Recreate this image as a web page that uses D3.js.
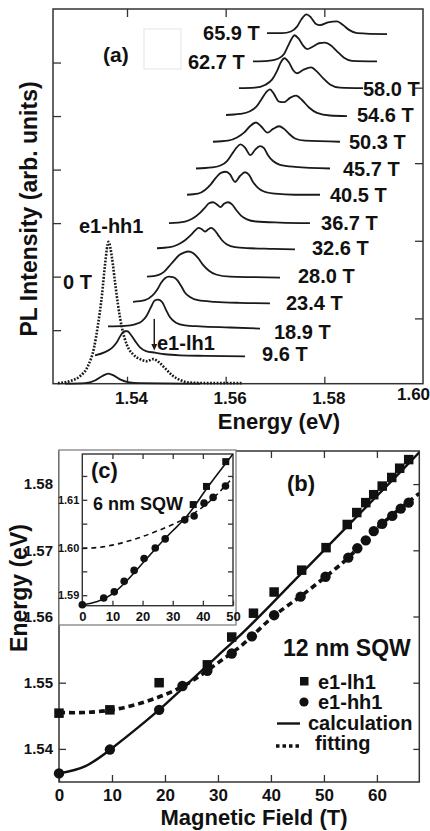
<!DOCTYPE html>
<html><head><meta charset="utf-8">
<script src="https://cdn.jsdelivr.net/npm/d3@7"></script>
<style>
body{margin:0;background:#fff}
svg{display:block}
text{font-family:"Liberation Sans",Arial,sans-serif;font-weight:bold;fill:#111}
</style>
</head><body>
<svg id="c" width="430" height="831"></svg>
<script>
// ---------------- Panel (a): PL spectra (energy eV, stacked intensity arb. units) ----------------
const spec0Tdotted = [[1.52601,0.01],[1.52845,0.05],[1.53047,0.14],[1.53209,0.33],[1.53331,0.67],[1.53412,1.10],[1.53493,1.66],[1.53554,2.22],[1.53625,2.65],[1.53696,2.35],[1.53757,1.90],[1.53818,1.47],[1.53899,1.04],[1.54000,0.72],[1.54122,0.55],[1.54263,0.46],[1.54405,0.42],[1.54527,0.46],[1.54649,0.40],[1.54770,0.29],[1.54912,0.16],[1.55074,0.07],[1.55277,0.02],[1.55784,0.01],[1.56331,0.01]];
const spec0T = [[1.52743,0.00],[1.53149,0.01],[1.53351,0.06],[1.53493,0.14],[1.53621,0.19],[1.53736,0.15],[1.53858,0.08],[1.54020,0.03],[1.54263,0.01],[1.55480,0.00]];
const spec9p6 = [[1.53351,0.53],[1.53554,0.59],[1.53696,0.67],[1.53797,0.78],[1.53878,0.91],[1.53949,0.98],[1.54010,0.98],[1.54081,0.91],[1.54162,0.80],[1.54263,0.68],[1.54385,0.61],[1.54568,0.58],[1.54770,0.55],[1.55074,0.53],[1.55581,0.52],[1.56392,0.51]];
const spec18p9 = [[1.53615,1.07],[1.53959,1.08],[1.54162,1.11],[1.54304,1.17],[1.54405,1.28],[1.54486,1.43],[1.54557,1.55],[1.54628,1.57],[1.54709,1.53],[1.54791,1.38],[1.54872,1.24],[1.54993,1.14],[1.55176,1.09],[1.55480,1.07],[1.56088,1.05],[1.56696,1.03]];
const spec23p4 = [[1.54122,1.53],[1.54365,1.56],[1.54507,1.64],[1.54608,1.75],[1.54689,1.88],[1.54770,1.97],[1.54851,2.00],[1.54932,1.99],[1.55014,1.94],[1.55095,1.83],[1.55176,1.70],[1.55277,1.62],[1.55439,1.56],[1.55784,1.53],[1.56290,1.51],[1.56898,1.50]];
const spec28p0 = [[1.54405,2.00],[1.54628,2.03],[1.54750,2.09],[1.54851,2.19],[1.54953,2.30],[1.55054,2.40],[1.55155,2.45],[1.55247,2.47],[1.55338,2.44],[1.55439,2.35],[1.55541,2.22],[1.55662,2.11],[1.55804,2.04],[1.56088,2.00],[1.56595,1.99],[1.57101,1.98]];
const spec32p6 = [[1.54608,2.53],[1.54872,2.55],[1.55034,2.60],[1.55176,2.68],[1.55297,2.78],[1.55389,2.87],[1.55449,2.91],[1.55510,2.89],[1.55581,2.84],[1.55642,2.88],[1.55703,2.91],[1.55774,2.87],[1.55845,2.78],[1.55926,2.68],[1.56027,2.60],[1.56189,2.55],[1.56493,2.53],[1.56898,2.52],[1.57405,2.51]];
const spec36p7 = [[1.54851,3.00],[1.55176,3.03],[1.55338,3.09],[1.55480,3.19],[1.55581,3.29],[1.55662,3.37],[1.55743,3.39],[1.55824,3.35],[1.55895,3.30],[1.55966,3.36],[1.56047,3.39],[1.56128,3.35],[1.56209,3.25],[1.56311,3.14],[1.56432,3.07],[1.56615,3.03],[1.57101,3.01],[1.57709,3.00]];
const spec40p5 = [[1.55216,3.53],[1.55439,3.55],[1.55581,3.62],[1.55703,3.73],[1.55804,3.85],[1.55905,3.94],[1.56007,3.96],[1.56088,3.91],[1.56189,3.77],[1.56290,3.88],[1.56392,3.95],[1.56473,3.90],[1.56554,3.77],[1.56655,3.66],[1.56777,3.59],[1.57000,3.55],[1.57405,3.53],[1.57912,3.53]];
const spec45p7 = [[1.55399,4.02],[1.55723,4.04],[1.55905,4.08],[1.56027,4.16],[1.56128,4.29],[1.56220,4.41],[1.56301,4.47],[1.56392,4.41],[1.56503,4.27],[1.56595,4.37],[1.56696,4.44],[1.56777,4.40],[1.56858,4.27],[1.56960,4.16],[1.57101,4.09],[1.57405,4.05],[1.58115,4.02]];
const spec50p3 = [[1.55743,4.52],[1.56047,4.54],[1.56230,4.60],[1.56372,4.69],[1.56493,4.81],[1.56615,4.88],[1.56716,4.81],[1.56848,4.69],[1.56960,4.76],[1.57081,4.81],[1.57183,4.76],[1.57284,4.67],[1.57405,4.58],[1.57608,4.54],[1.58317,4.52]];
const spec54p6 = [[1.56007,5.02],[1.56290,5.04],[1.56493,5.09],[1.56635,5.19],[1.56736,5.33],[1.56818,5.44],[1.56898,5.50],[1.56980,5.41],[1.57081,5.27],[1.57183,5.26],[1.57304,5.34],[1.57426,5.38],[1.57547,5.30],[1.57689,5.16],[1.57851,5.06],[1.58115,5.01],[1.58459,5.00]];
const spec58p0 = [[1.56270,5.52],[1.56595,5.53],[1.56797,5.58],[1.56939,5.68],[1.57040,5.84],[1.57122,6.01],[1.57192,6.08],[1.57284,6.00],[1.57365,5.86],[1.57446,5.80],[1.57568,5.86],[1.57730,5.91],[1.57851,5.83],[1.57973,5.71],[1.58115,5.59],[1.58317,5.53],[1.58784,5.52]];
const spec62p7 = [[1.56554,6.02],[1.56858,6.03],[1.57061,6.07],[1.57183,6.16],[1.57264,6.31],[1.57335,6.44],[1.57395,6.51],[1.57476,6.45],[1.57568,6.32],[1.57649,6.25],[1.57770,6.30],[1.57892,6.36],[1.58014,6.37],[1.58135,6.32],[1.58257,6.21],[1.58399,6.09],[1.58561,6.03],[1.59068,6.02]];
const spec65p9 = [[1.56838,6.55],[1.57142,6.55],[1.57324,6.58],[1.57446,6.67],[1.57537,6.81],[1.57639,6.90],[1.57730,6.84],[1.57831,6.72],[1.57912,6.70],[1.58074,6.75],[1.58257,6.77],[1.58379,6.70],[1.58501,6.61],[1.58663,6.55],[1.59271,6.53]];

const fieldLabels = ["0 T","9.6 T","18.9 T","23.4 T","28.0 T","32.6 T","36.7 T","40.5 T","45.7 T","50.3 T","54.6 T","58.0 T","62.7 T","65.9 T"];
const solidSpectra = [spec0T,spec9p6,spec18p9,spec23p4,spec28p0,spec32p6,spec36p7,spec40p5,spec45p7,spec50p3,spec54p6,spec58p0,spec62p7,spec65p9];
// label anchor (energy, intensity) for each field label
const fieldLabelPos = [[1.52703,1.91],[1.56737,0.55],[1.56980,0.97],[1.57223,1.51],[1.57466,2.01],[1.57750,2.54],[1.57933,3.01],[1.58115,3.53],[1.58378,4.01],[1.58500,4.52],[1.58662,5.02],[1.58784,5.51],[1.55236,6.01],[1.55541,6.55]];

const energyTicksA = [1.54,1.56,1.58,1.60];
const intensityTicksA = [1,2,3,4,5,6];
const rightTicksA = [1.22,2.67,4.12,5.53];

// ---------------- Panel (b): 12 nm SQW ----------------
const fieldLH = [0,9.6,18.9,28.0,32.6,36.7,40.6,45.8,50.4,54.4,56.2,57.9,59.4,61.0,62.8,64.3,66.0];
const energyLH = [1.5454,1.5459,1.5500,1.5527,1.5569,1.5605,1.5637,1.5670,1.5704,1.5739,1.5757,1.5772,1.5784,1.5797,1.5810,1.5824,1.5837];
const fieldHH = [0,9.6,18.9,23.3,28.0,32.6,36.4,40.6,45.6,50.3,54.6,56.3,57.9,59.4,61.0,62.9,64.5,66.0];
const energyHH = [1.5363,1.5399,1.5459,1.5495,1.5518,1.5544,1.5570,1.5602,1.5630,1.5660,1.5689,1.5703,1.5715,1.5729,1.5740,1.5752,1.5763,1.5772];
const curveField = [0,5,10,15,20,25,30,35,40,45,50,55,60,65,68];
const calcEnergy = [1.5363,1.5374,1.5401,1.5433,1.5467,1.5504,1.5541,1.5578,1.5618,1.5659,1.5700,1.5741,1.5782,1.5823,1.5848];
const fitEnergy = [1.5455,1.5455,1.5459,1.5468,1.5482,1.5502,1.5530,1.5560,1.5597,1.5627,1.5658,1.5692,1.5733,1.5767,1.5786];
const fieldTicksB = [0,10,20,30,40,50,60];
const energyTicksB = [1.54,1.55,1.56,1.57,1.58];

// ---------------- Inset (c): 6 nm SQW ----------------
const insetFieldHH = [0,7.1,10.6,13.9,17.2,20.5,24.2,27.5,34.0,37.1,40.4,43.4,47.5];
const insetEnergyHH = [1.5880,1.5894,1.5907,1.5929,1.5952,1.5977,1.5999,1.6018,1.6058,1.6066,1.6093,1.6105,1.6129];
const insetFieldLH = [36.8,41.2,47.6];
const insetEnergyLH = [1.6090,1.6128,1.6180];
const insetCurveField = [0,5,10,15,20,25,30,35,40,45,50];
const insetCalc = [1.5880,1.5887,1.5903,1.5932,1.5967,1.6002,1.6035,1.6068,1.6112,1.6155,1.6196];
const insetFit = [1.5998,1.6000,1.6005,1.6013,1.6023,1.6035,1.6048,1.6064,1.6085,1.6113,1.6147];
const fieldTicksC = [0,10,20,30,40,50];
const energyTicksC = [1.59,1.595,1.60,1.605,1.61,1.615];

// =====================================================================
const svg = d3.select("#c");
const FONT = '"Liberation Sans",Arial,sans-serif';
const INK = "#111";

function styleAxis(g, size){
  g.select(".domain").remove();
  g.selectAll("line").attr("stroke","#333").attr("stroke-width",1.3);
  g.attr("font-family",FONT).attr("font-size",size).attr("font-weight","bold");
  g.selectAll("text").attr("fill",INK);
}
function frame(x0,y0,x1,y1,sw){
  svg.append("rect").attr("x",x0).attr("y",y0).attr("width",x1-x0).attr("height",y1-y0)
    .attr("fill","none").attr("stroke","#333").attr("stroke-width",sw||1.5);
}

// ---------- Panel (a) ----------
const xA = d3.scaleLinear().domain([1.525,1.600]).range([53,423]);
const yA = d3.scaleLinear().domain([0,7]).range([383.7,9]);

// faint pasted box artifact
svg.append("rect").attr("x",144).attr("y",29).attr("width",37).attr("height",40)
  .attr("fill","none").attr("stroke","#e3e3e3").attr("stroke-width",1);

const gAb = svg.append("g").attr("transform",`translate(0,${yA(0)})`)
  .call(d3.axisBottom(xA).tickValues(energyTicksA).tickSize(-7).tickPadding(8).tickFormat(d3.format(".2f")));
styleAxis(gAb,17);
gAb.selectAll(".tick text").attr("dx",d=> d>1.595 ? -10 : 4).attr("dy",d=> d>1.595 ? "0.5em" : "0.71em");
gAb.selectAll(".tick line").filter(d=>d>1.595).remove();
const gAt = svg.append("g").attr("transform",`translate(0,${yA(7)})`)
  .call(d3.axisTop(xA).tickValues(energyTicksA.slice(0,3)).tickSize(-8).tickFormat(""));
styleAxis(gAt,10);
const gAl = svg.append("g").attr("transform",`translate(${xA(1.525)},0)`)
  .call(d3.axisLeft(yA).tickValues(intensityTicksA).tickSize(-8).tickFormat(""));
styleAxis(gAl,10);
const gAr = svg.append("g").attr("transform",`translate(${xA(1.600)},0)`)
  .call(d3.axisRight(yA).tickValues(rightTicksA).tickSize(-8).tickFormat(""));
styleAxis(gAr,10);
frame(xA(1.525),yA(7),xA(1.600),yA(0),1.5);

const lineA = d3.line().x(d=>xA(d[0])).y(d=>yA(d[1])).curve(d3.curveMonotoneX);
svg.append("path").attr("d",lineA(spec0Tdotted)).attr("fill","none").attr("stroke","#1a1a1a")
  .attr("stroke-width",2.6).attr("stroke-dasharray","1.8,1.5");
svg.selectAll("path.spec").data(solidSpectra).enter().append("path").attr("class","spec")
  .attr("d",lineA).attr("fill","none").attr("stroke","#1a1a1a").attr("stroke-width",1.8);

svg.selectAll("text.fl").data(fieldLabels).enter().append("text").attr("class","fl")
  .attr("x",(d,i)=>xA(fieldLabelPos[i][0])).attr("y",(d,i)=>yA(fieldLabelPos[i][1]))
  .attr("dy","0.36em").attr("font-size",20).text(d=>d);

svg.append("text").attr("x",xA(1.53027)).attr("y",yA(2.95)).attr("dy","0.36em").attr("font-size",20).text("e1-hh1");
svg.append("text").attr("x",xA(1.54608)).attr("y",yA(0.755)).attr("dy","0.36em").attr("font-size",20).text("e1-lh1");
// arrow to e1-lh1
const axE = 1.54553;
svg.append("line").attr("x1",xA(axE)).attr("x2",xA(axE)).attr("y1",yA(1.21)).attr("y2",yA(0.70))
  .attr("stroke","#1a1a1a").attr("stroke-width",1.5);
svg.append("path").attr("d",`M${xA(axE)-3},${yA(0.74)} L${xA(axE)+3},${yA(0.74)} L${xA(axE)},${yA(0.62)} Z`).attr("fill","#1a1a1a");

svg.append("text").attr("x",103).attr("y",62).attr("font-size",21).text("(a)");
svg.append("text").attr("x",279).attr("y",429).attr("text-anchor","middle").attr("font-size",22).text("Energy (eV)");
svg.append("text").attr("transform","translate(29,209) rotate(-90)").attr("text-anchor","middle")
  .attr("dy","0.36em").attr("font-size",23).text("PL Intensity (arb. units)");

// ---------- Panel (b) ----------
const xB = d3.scaleLinear().domain([0,68]).range([59,419.3]);
const yB = d3.scaleLinear().domain([1.535,1.585]).range([782,451]);

const gBb = svg.append("g").attr("transform",`translate(0,${yB(1.535)})`)
  .call(d3.axisBottom(xB).tickValues(fieldTicksB).tickSize(-7).tickPadding(7).tickFormat(d3.format("d")));
styleAxis(gBb,17);
const gBt = svg.append("g").attr("transform",`translate(0,${yB(1.585)})`)
  .call(d3.axisTop(xB).tickValues(fieldTicksB.slice(1)).tickSize(-7).tickFormat(""));
styleAxis(gBt,10);
const gBl = svg.append("g").attr("transform",`translate(${xB(0)},0)`)
  .call(d3.axisLeft(yB).tickValues(energyTicksB).tickSize(-7).tickPadding(6).tickFormat(d3.format(".2f")));
styleAxis(gBl,15);
const gBr = svg.append("g").attr("transform",`translate(${xB(68)},0)`)
  .call(d3.axisRight(yB).tickValues(energyTicksB).tickSize(-6).tickFormat(""));
styleAxis(gBr,10);
frame(xB(0),yB(1.585),xB(68),yB(1.535),1.5);

svg.append("clipPath").attr("id","clipB").append("rect")
  .attr("x",xB(0)).attr("y",yB(1.585)).attr("width",xB(68)-xB(0)).attr("height",yB(1.535)-yB(1.585));
const lineB = d3.line().x(d=>xB(d[0])).y(d=>yB(d[1])).curve(d3.curveNatural);
const gBplot = svg.append("g").attr("clip-path","url(#clipB)");
gBplot.append("path").attr("d",lineB(d3.zip(curveField,calcEnergy))).attr("fill","none")
  .attr("stroke","#111").attr("stroke-width",2.4);
gBplot.append("path").attr("d",lineB(d3.zip(curveField,fitEnergy))).attr("fill","none")
  .attr("stroke","#111").attr("stroke-width",3.6).attr("stroke-dasharray","6,4");
const sqB = 9.5;
svg.selectAll("rect.lhB").data(d3.zip(fieldLH,energyLH)).enter().append("rect").attr("class","lhB")
  .attr("x",d=>xB(d[0])-sqB/2).attr("y",d=>yB(d[1])-sqB/2).attr("width",sqB).attr("height",sqB).attr("fill","#111");
svg.selectAll("circle.hhB").data(d3.zip(fieldHH,energyHH)).enter().append("circle").attr("class","hhB")
  .attr("cx",d=>xB(d[0])).attr("cy",d=>yB(d[1])).attr("r",5.2).attr("fill","#111");

svg.append("text").attr("x",287).attr("y",491).attr("font-size",22).text("(b)");
// legend
svg.append("text").attr("x",283).attr("y",656).attr("font-size",23).text("12 nm SQW");
svg.append("rect").attr("x",300).attr("y",677).attr("width",8.5).attr("height",8.5).attr("fill","#111");
svg.append("text").attr("x",318).attr("y",688.5).attr("font-size",20).text("e1-lh1");
svg.append("circle").attr("cx",304).attr("cy",702).attr("r",4.6).attr("fill","#111");
svg.append("text").attr("x",318).attr("y",708.5).attr("font-size",20).text("e1-hh1");
svg.append("line").attr("x1",277).attr("x2",300).attr("y1",723.5).attr("y2",723.5).attr("stroke","#111").attr("stroke-width",2.4);
svg.append("text").attr("x",308).attr("y",730).attr("font-size",20).text("calculation");
svg.append("line").attr("x1",276).attr("x2",300).attr("y1",746).attr("y2",746).attr("stroke","#111")
  .attr("stroke-width",3.4).attr("stroke-dasharray","3.5,3");
svg.append("text").attr("x",315).attr("y",750).attr("font-size",20).text("fitting");

svg.append("text").attr("x",254).attr("y",825).attr("text-anchor","middle").attr("font-size",22).text("Magnetic Field (T)");
svg.append("text").attr("transform","translate(19,588) rotate(-90)").attr("text-anchor","middle")
  .attr("dy","0.36em").attr("font-size",23).text("Energy (eV)");

// ---------- Inset (c) ----------
svg.append("rect").attr("x",59).attr("y",450).attr("width",177).attr("height",175)
  .attr("fill","#fff").attr("stroke","#777").attr("stroke-width",1.2);
const xC = d3.scaleLinear().domain([0,50]).range([82.3,233]);
const yC = d3.scaleLinear().domain([1.5878,1.6196]).range([605.7,454]);
const isMajor = d => Math.abs(d*100-Math.round(d*100))<1e-6;

const gCb = svg.append("g").attr("transform",`translate(0,${yC(1.5878)})`)
  .call(d3.axisBottom(xC).tickValues(fieldTicksC).tickSize(-5).tickPadding(6).tickFormat(d3.format("d")));
styleAxis(gCb,13);
const gCt = svg.append("g").attr("transform",`translate(0,${yC(1.6196)})`)
  .call(d3.axisTop(xC).tickValues(fieldTicksC.slice(1,5)).tickSize(-5).tickFormat(""));
styleAxis(gCt,10);
const gCl = svg.append("g").attr("transform",`translate(${xC(0)},0)`)
  .call(d3.axisLeft(yC).tickValues(energyTicksC).tickSize(-5).tickPadding(3)
    .tickFormat(d=> isMajor(d) ? d3.format(".2f")(d) : ""));
styleAxis(gCl,11);
const gCr = svg.append("g").attr("transform",`translate(${xC(50)},0)`)
  .call(d3.axisRight(yC).tickValues(energyTicksC).tickSize(-5).tickFormat(""));
styleAxis(gCr,10);
frame(xC(0),yC(1.6196),xC(50),yC(1.5878),1.4);

svg.append("clipPath").attr("id","clipC").append("rect")
  .attr("x",xC(0)).attr("y",yC(1.6196)).attr("width",xC(50)-xC(0)).attr("height",yC(1.5878)-yC(1.6196));
const lineC = d3.line().x(d=>xC(d[0])).y(d=>yC(d[1])).curve(d3.curveNatural);
const gCplot = svg.append("g").attr("clip-path","url(#clipC)");
gCplot.append("path").attr("d",lineC(d3.zip(insetCurveField,insetCalc))).attr("fill","none")
  .attr("stroke","#111").attr("stroke-width",1.6);
gCplot.append("path").attr("d",lineC(d3.zip(insetCurveField,insetFit))).attr("fill","none")
  .attr("stroke","#111").attr("stroke-width",1.6).attr("stroke-dasharray","5,4");
const sqC = 7;
svg.selectAll("rect.lhC").data(d3.zip(insetFieldLH,insetEnergyLH)).enter().append("rect").attr("class","lhC")
  .attr("x",d=>xC(d[0])-sqC/2).attr("y",d=>yC(d[1])-sqC/2).attr("width",sqC).attr("height",sqC).attr("fill","#111");
svg.selectAll("circle.hhC").data(d3.zip(insetFieldHH,insetEnergyHH)).enter().append("circle").attr("class","hhC")
  .attr("cx",d=>xC(d[0])).attr("cy",d=>yC(d[1])).attr("r",3.8).attr("fill","#111");

svg.append("text").attr("x",91).attr("y",478).attr("font-size",22).text("(c)");
svg.append("text").attr("x",93).attr("y",510).attr("font-size",18).text("6 nm SQW");
</script>
</body></html>
